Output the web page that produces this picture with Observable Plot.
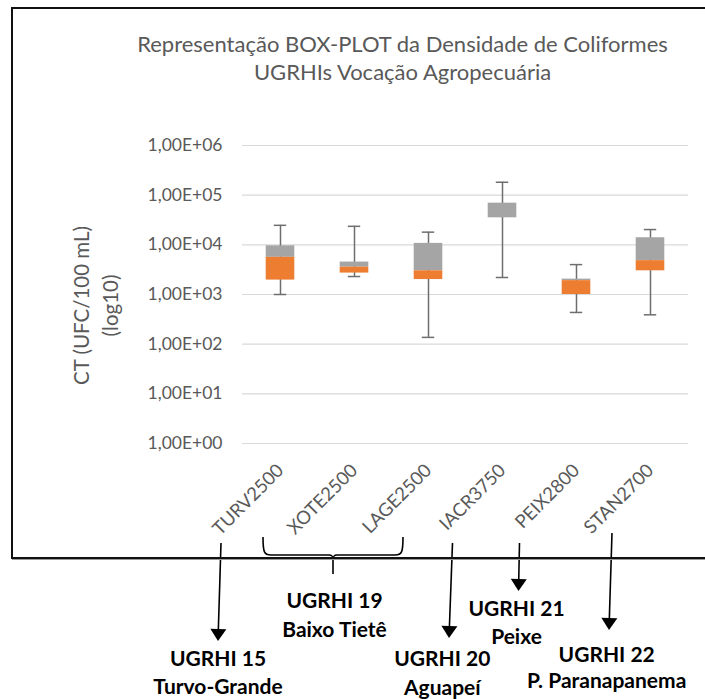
<!DOCTYPE html>
<html>
<head>
<meta charset="utf-8">
<script src="https://cdn.jsdelivr.net/npm/d3@7"></script>
<script src="https://cdn.jsdelivr.net/npm/@observablehq/plot@0.6"></script>
<style>
  html, body { margin: 0; padding: 0; background: #fff; overflow: hidden; }
  #wrap { position: relative; width: 705px; height: 699px; overflow: hidden; }
  #frame { position: absolute; left: 11px; top: 7px; width: 800px; height: 548px;
           border: 2px solid #111; box-shadow: 1px 1px 0 #999; z-index: 3; pointer-events: none; }
  #title { position: absolute; left: 0; top: 30px; width: 805px; text-align: center;
           font-family: Lato, sans-serif; font-size: 22px; line-height: 28px; color: #595959; z-index: 2; }
  #chart { position: absolute; left: 0; top: 0; z-index: 1; }
</style>
</head>
<body>
<div id="wrap">
  <div id="frame"></div>
  <div id="title">Representação BOX-PLOT da Densidade de Coliformes<br>UGRHIs Vocação Agropecuária</div>
  <div id="chart"></div>
</div>
<script>
// ---- data ----
const categories   = ["TURV2500", "XOTE2500", "LAGE2500", "IACR3750", "PEIX2800", "STAN2700"];
const minValues    = [1000, 2300, 137, 2200, 435, 390];
const q1Values     = [1950, 2700, 2000, 35000, 1000, 3000];
const medianValues = [5600, 3550, 3000, 35000, 1900, 4800];
const q3Values     = [9550, 4500, 10700, 69000, 2040, 13900];
const maxValues    = [24700, 23600, 18000, 182000, 4000, 20300];
const yTickValues  = [1, 10, 100, 1000, 10000, 100000, 1000000];
const yTickLabels  = ["1,00E+00", "1,00E+01", "1,00E+02", "1,00E+03", "1,00E+04", "1,00E+05", "1,00E+06"];
const yTitle = "CT (UFC/100 mL)\n(log10)";
const regionCodes = ["UGRHI 15", "UGRHI 19", "UGRHI 20", "UGRHI 21", "UGRHI 22"];
const regionNames = ["Turvo-Grande", "Baixo Tietê", "Aguapeí", "Peixe", "P. Paranapanema"];

const rows = categories.map((c, i) => ({
  category: c, min: minValues[i], q1: q1Values[i], median: medianValues[i], q3: q3Values[i], max: maxValues[i]
}));

const whisker = "#6e6e6e";
const chart = Plot.plot({
  width: 705, height: 699,
  marginLeft: 242, marginRight: 17, marginTop: 145, marginBottom: 256,
  style: { fontFamily: "Lato, sans-serif", fontSize: "17.5px", background: "transparent", overflow: "visible" },
  x: { type: "band", domain: categories, padding: 0 },
  y: { type: "log", domain: [1, 1e6] },
  marks: [
    Plot.ruleY(yTickValues, { stroke: "#d9d9d9", strokeWidth: 1.2 }),
    Plot.axisY({ ticks: yTickValues, tickFormat: d => yTickLabels[yTickValues.indexOf(d)],
                 tickSize: 0, tickPadding: 20, color: "#595959", fontSize: 17.5, label: null }),
    Plot.axisX({ tickRotate: -45, tickSize: 0, tickPadding: 24, color: "#595959", fontSize: 18.5, label: null }),
    Plot.text([yTitle], { frameAnchor: "left", textAnchor: "middle", dx: -148, dy: 11, rotate: -90, fontSize: 20.5,
                          lineHeight: 1.4, fill: "#595959" }),
    Plot.ruleX(rows, { x: "category", y1: "min", y2: "max", stroke: whisker, strokeWidth: 1.5 }),
    Plot.tickY(rows, { x: "category", y: "max", stroke: whisker, strokeWidth: 1.5, insetLeft: 30.8, insetRight: 30.8 }),
    Plot.tickY(rows, { x: "category", y: "min", stroke: whisker, strokeWidth: 1.5, insetLeft: 30.8, insetRight: 30.8 }),
    Plot.barY(rows, { x: "category", y1: "median", y2: "q3", fill: "#a5a5a5", insetLeft: 22.7, insetRight: 22.7 }),
    Plot.barY(rows, { x: "category", y1: "q1", y2: "median", fill: "#ed7d31", insetLeft: 22.7, insetRight: 22.7 })
  ]
});
document.getElementById("chart").appendChild(chart);

// ---- annotations below the chart, anchored to the x scale ----
const xs = chart.scale("x");
const cx = c => xs.apply(c) + xs.bandwidth / 2;
const svg = d3.select(chart);
const g = svg.append("g").attr("class", "annotations");

const arrows = [
  { cat: "TURV2500", dx1: -59,   y1: 543, dx2: -62,   y2: 641 },
  { cat: "IACR3750", dx1: -49.5, y1: 543, dx2: -53,   y2: 638 },
  { cat: "PEIX2800", dx1: -56.5, y1: 543, dx2: -57.5, y2: 591 },
  { cat: "STAN2700", dx1: -38,   y1: 533, dx2: -41,   y2: 630 }
];
arrows.forEach(a => {
  const x1 = cx(a.cat) + a.dx1, x2 = cx(a.cat) + a.dx2;
  const len = Math.hypot(x2 - x1, a.y2 - a.y1);
  const ux = (x2 - x1) / len, uy = (a.y2 - a.y1) / len;
  const head = 12, half = 8;
  const bx = x2 - ux * head, by = a.y2 - uy * head;
  g.append("line").attr("x1", x1).attr("y1", a.y1).attr("x2", bx).attr("y2", by)
    .attr("stroke", "#000").attr("stroke-width", 1.6);
  g.append("path")
    .attr("d", `M${x2},${a.y2} L${bx - uy * half},${by + ux * half} L${bx + uy * half},${by - ux * half} Z`)
    .attr("fill", "#000");
});

// bracket under XOTE / LAGE
{
  const xl = cx("XOTE2500") - 91, xr = cx("LAGE2500") - 25, xt = (xl + xr) / 2;
  const yTop = 537, yH = 555, yTip = 574;
  const d = `M${xl},${yTop} C${xl},${yH - 3} ${xl + 1},${yH} ${xl + 8},${yH} L${xt - 4},${yH} C${xt - 1},${yH} ${xt},${yH + 1} ${xt},${yH + 5} L${xt},${yTip}
             M${xt},${yH + 5} C${xt},${yH + 1} ${xt + 1},${yH} ${xt + 4},${yH} L${xr - 8},${yH} C${xr - 1},${yH} ${xr},${yH - 3} ${xr},${yTop}`;
  g.append("path").attr("d", d).attr("fill", "none").attr("stroke", "#000").attr("stroke-width", 1.6);
}

const labelPos = [
  { cat: "TURV2500", dx: -62,   y1: 666, y2: 694 },
  { cat: "XOTE2500", dx: -19.5, y1: 608, y2: 637 },
  { cat: "IACR3750", dx: -59.7, y1: 666, y2: 695 },
  { cat: "PEIX2800", dx: -59.5, y1: 616, y2: 644 },
  { cat: "STAN2700", dx: -43.3, y1: 662, y2: 688 }
];
labelPos.forEach((p, i) => {
  const x = cx(p.cat) + p.dx;
  [[regionCodes[i], p.y1], [regionNames[i], p.y2]].forEach(([t, y]) => {
    g.append("text").attr("x", x).attr("y", y).attr("text-anchor", "middle")
      .attr("font-family", "Lato, sans-serif").attr("font-weight", "bold").attr("font-size", 21)
      .attr("fill", "#000").text(t);
  });
});
</script>
</body>
</html>
